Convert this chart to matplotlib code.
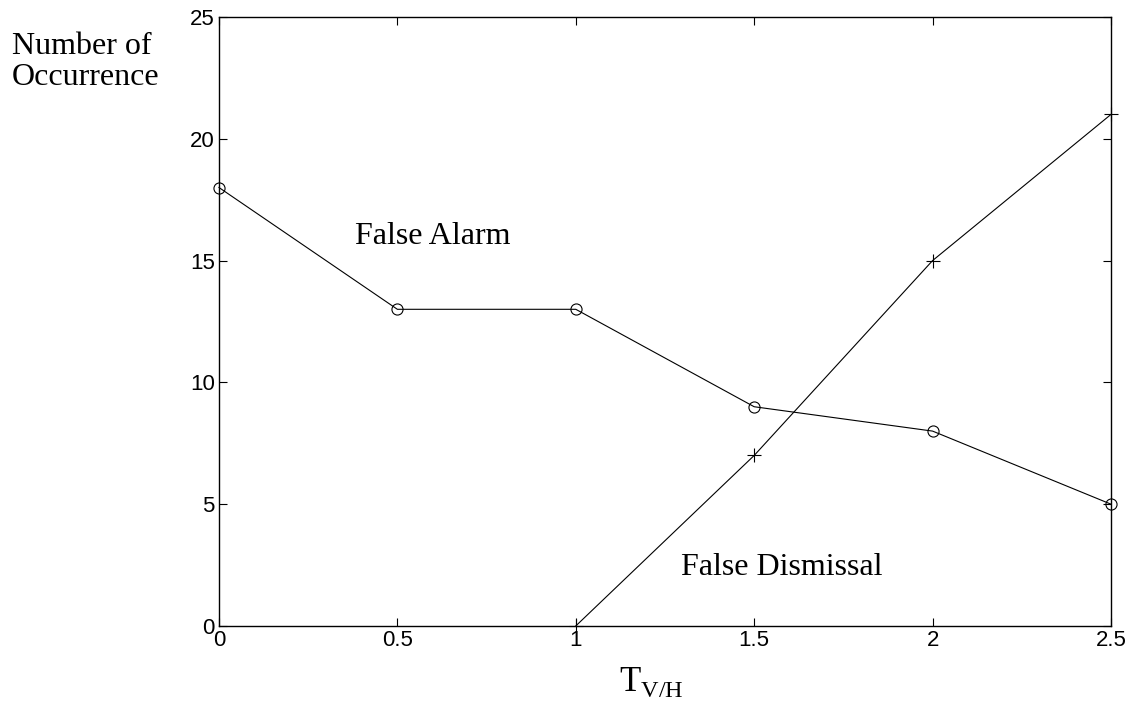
import matplotlib
matplotlib.use("Agg")
import matplotlib.pyplot as plt

thresholds = [0, 0.5, 1, 1.5, 2, 2.5]
false_alarm = [18, 13, 13, 9, 8, 5]
dismissal_x = [1, 1.5, 2, 2.5]
false_dismissal = [0, 7, 15, 21]

xticks = [0, 0.5, 1, 1.5, 2, 2.5]
xtick_labels = ["0", "0.5", "1", "1.5", "2", "2.5"]
yticks = [0, 5, 10, 15, 20, 25]

serif = ["Liberation Serif", "DejaVu Serif"]
sans = ["Liberation Sans", "DejaVu Sans"]

fig = plt.figure(figsize=(11.34, 7.05), dpi=100)
ax = fig.add_axes([0.1931, 0.1121, 0.7866, 0.8638])

ax.plot(thresholds, false_alarm, color="black", lw=0.8, marker="o",
        markersize=8, markerfacecolor="none", markeredgewidth=0.8, clip_on=False)
ax.plot(dismissal_x, false_dismissal, color="black", lw=0.8, marker="+",
        markersize=10, markeredgewidth=0.8, clip_on=False)

ax.set_xlim(0, 2.5)
ax.set_ylim(0, 25)
ax.set_xticks(xticks)
ax.set_xticklabels(xtick_labels)
ax.set_yticks(yticks)
ax.tick_params(direction="in", top=True, right=True, length=6, width=0.8,
               labelsize=16, pad=3)
for lab in ax.get_xticklabels() + ax.get_yticklabels():
    lab.set_family(sans)
for s in ax.spines.values():
    s.set_linewidth(1.0)

ax.text(0.38, 16, "False Alarm", fontsize=23, family=serif, ha="left", va="center")
ax.text(1.295, 2.4, "False Dismissal", fontsize=23, family=serif, ha="left", va="center")

fig.text(12 / 1134, 1 - 62 / 705, "Number of\nOccurrence", fontsize=23, family=serif,
         ha="left", va="center", linespacing=1.08)
fig.text(651 / 1134, 1 - 682 / 705, r"T$_{\mathregular{V/H}}$", fontsize=25, family=serif,
         ha="center", va="center")

fig.savefig("out.png", dpi=100)
